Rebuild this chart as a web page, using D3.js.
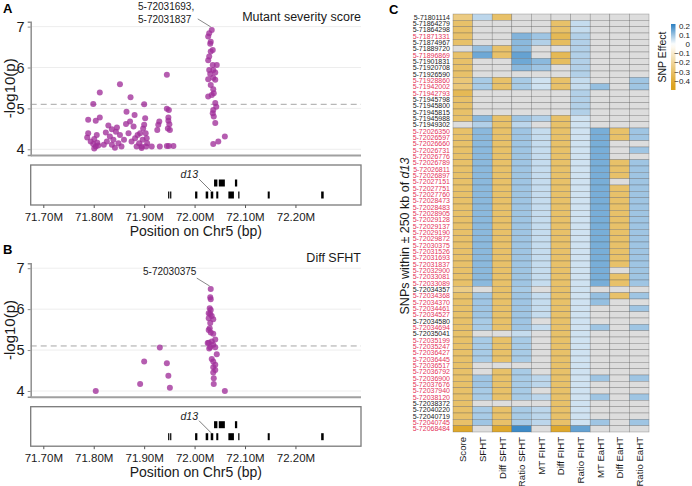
<!DOCTYPE html>
<html>
<head>
<meta charset="utf-8">
<script src="https://cdn.jsdelivr.net/npm/d3@7"></script>
<style>
  body { margin: 0; background: #fff; }
  svg { display: block; font-family: "Liberation Sans", Arial, sans-serif; }
</style>
</head>
<body>
<svg id="fig" width="692" height="486"></svg>
<script>
// ---- data: SNP positions (Mb) and -log10(p) ----
const scorePos = [71.787,71.789,71.789,71.799,71.812,71.804,71.812,71.794,71.801,71.806,71.799,71.804,71.809,71.801,71.807,
  71.824,71.829,71.836,71.846,71.852,71.832,71.839,71.836,71.842,71.849,71.852,71.855,71.860,71.865,71.869,71.873,71.875,
  71.879,71.881,71.882,71.885,71.890,71.892,71.895,71.897,71.898,71.900,71.902,71.904,71.905,71.900,71.903,71.906,71.864,
  71.872,71.844,71.826,71.820,71.887,71.895,
  71.915,71.928,71.930,71.926,71.931,71.945,71.945,71.949,71.948,71.948,71.950,71.947,71.951,71.945,71.949,71.958,
  72.034,72.029,72.027,72.032,72.031,72.036,72.032,72.029,72.027,72.044,72.036,72.029,72.037,72.041,72.027,72.041,72.032,
  72.037,72.038,72.027,72.034,72.041,72.043,72.037,72.036,72.038,72.041,72.037,72.047,72.060,72.031,72.037];
const scoreLogP = [4.29,4.39,4.72,5.11,5.39,4.70,4.78,4.19,4.25,4.35,4.13,4.07,4.09,4.02,4.16,
  4.41,4.58,4.49,4.53,5.59,4.31,4.23,4.11,4.04,4.15,4.35,4.07,4.23,4.92,4.39,5.27,4.19,
  4.56,4.84,4.27,4.07,4.15,4.39,4.07,4.23,4.51,5.10,4.76,4.07,4.27,4.60,4.39,4.15,4.62,
  4.68,4.43,4.19,4.11,4.35,4.03,
  4.07,4.60,4.68,4.47,4.07,5.82,4.99,4.96,4.78,4.70,4.61,4.51,4.47,4.08,4.08,4.08,
  6.92,6.84,6.76,6.63,6.58,6.43,6.39,6.27,6.18,6.06,6.06,5.94,5.94,5.88,5.71,5.70,5.57,
  5.47,5.37,5.29,5.33,5.13,5.04,4.96,4.88,4.80,4.64,4.13,4.19,4.31,5.84,5.75];

const sfhtPos = [71.804,71.892,71.900,71.931,71.945,71.948,71.951,72.060,
  72.032,72.031,72.032,72.030,72.032,72.028,72.031,72.034,72.028,72.037,72.031,72.030,72.028,72.032,72.037,
  72.041,72.028,72.034,72.037,72.031,72.041,72.044,72.034,72.037,72.041,72.037,72.041,72.037,72.038,72.038,72.029,72.026];
const sfhtLogP = [4.00,4.17,4.72,5.06,4.68,4.37,4.08,4.00,
  6.49,6.29,6.24,6.02,5.98,5.90,5.88,5.83,5.78,5.75,5.66,5.53,5.49,5.43,5.40,
  5.26,5.18,5.21,5.13,5.07,5.07,4.90,4.78,4.72,4.64,4.58,4.51,4.45,4.31,4.17,5.04,5.17];

// genes in the track (Mb), row 0 = upper, row 1 = lower
const geneStart = [72.0386,72.048,72.080, 71.9475,71.9515,72.001,72.022,72.032,72.043,72.067,72.0865,72.145,72.251];
const geneEnd   = [72.0452,72.060,72.0845,71.9495,71.9535,72.0055,72.027,72.037,72.047,72.078,72.089,72.149,72.256];
const geneRow   = [0,0,0, 1,1,1,1,1,1,1,1,1,1];
const d13Index = 7;

const xTicks = [71.7, 71.8, 71.9, 72.0, 72.1, 72.2];
const yTicks = [4, 5, 6, 7];
const sigLine = 5.1;

// ---- heatmap ----
const traitNames = ["Score","SFHT","Diff SFHT","Ratio SFHT","MT FIHT","Diff FIHT","Ratio FIHT","MT EaHT","Diff EaHT","Ratio EaHT"];
const snpIds = ["5-71801114","5-71864279","5-71864298","5-71871331","5-71874967","5-71889720","5-71896869","5-71901831",
  "5-71920708","5-71926590","5-71928860","5-71942002","5-71942793","5-71945798","5-71945800","5-71945815","5-71945988",
  "5-71949302","5-72026350","5-72026597","5-72026660","5-72026731","5-72026776","5-72026789","5-72026811","5-72026897",
  "5-72027151","5-72027751","5-72027760","5-72028473","5-72028483","5-72028905","5-72029128","5-72029137","5-72029190",
  "5-72029872","5-72030375","5-72031526","5-72031693","5-72031837","5-72032900","5-72033081","5-72033089","5-72034357",
  "5-72034368","5-72034370","5-72034461","5-72034527","5-72034580","5-72034694","5-72035041","5-72035199","5-72035247",
  "5-72036427","5-72036445","5-72036517","5-72036792","5-72036900","5-72037676","5-72037940","5-72038120","5-72038372",
  "5-72040220","5-72040719","5-72040745","5-72068484"];
// 1 = highlighted (red) SNP
const snpHighlight = [0,0,0,1,0,0,1,0,0,0,1,1,1,0,0,0,0,0,1,1,1,1,1,1,1,1,1,1,1,1,1,1,1,1,1,1,1,1,1,1,1,1,1,0,
  1,1,1,1,0,1,0,1,1,1,1,1,1,1,1,1,1,0,0,0,1,1];

const effScore = [-0.25,-0.3,-0.3,-0.3,-0.3,null,-0.3,-0.3,-0.3,-0.3,
  -0.27,-0.27,-0.34,-0.3,-0.3,-0.3,-0.3,null,-0.3,-0.3,
  -0.3,-0.3,-0.3,-0.3,-0.3,-0.3,-0.3,-0.3,-0.3,-0.3,
  -0.3,-0.3,-0.3,-0.3,-0.3,-0.3,-0.3,-0.3,-0.3,-0.3,
  -0.3,-0.3,-0.3,-0.24,-0.3,-0.3,-0.3,-0.3,-0.3,-0.3,
  -0.3,-0.3,-0.3,-0.3,-0.3,-0.3,-0.3,-0.3,-0.3,-0.3,
  -0.3,-0.3,-0.3,-0.3,-0.3,-0.42];
const effSfht = [0.07,null,null,null,null,0.11,0.15,null,null,null,
  0.09,0.09,null,null,null,null,0.12,0.08,0.12,0.12,
  0.12,0.12,0.12,0.12,0.12,0.12,0.12,0.12,0.12,0.12,
  0.12,0.12,0.12,0.12,0.12,0.12,0.12,0.12,0.12,0.12,
  0.12,0.12,0.12,null,0.1,0.1,0.1,0.1,0.09,0.09,
  null,0.09,0.09,0.09,0.09,null,null,0.1,0.1,0.09,
  0.09,null,0.09,0.09,0.1,null];
const effDiffSfht = [-0.3,null,null,null,null,-0.3,-0.3,null,null,null,
  -0.3,-0.3,null,null,null,null,-0.3,-0.3,-0.3,-0.3,
  -0.3,-0.3,-0.3,-0.3,-0.3,-0.3,-0.3,-0.3,-0.3,-0.3,
  -0.3,-0.3,-0.3,-0.3,-0.3,-0.3,-0.3,-0.3,-0.3,-0.3,
  -0.3,-0.3,-0.3,-0.3,-0.3,-0.3,-0.3,-0.3,-0.3,-0.3,
  null,-0.3,-0.3,-0.3,-0.3,null,-0.3,-0.3,-0.3,-0.3,
  -0.3,null,-0.3,-0.3,-0.3,-0.42];
const effRatioSfht = [null,null,null,0.13,0.12,0.12,0.16,0.15,0.12,null,
  0.09,0.09,null,null,null,null,0.1,0.07,0.1,0.1,
  0.1,0.1,0.1,0.1,0.1,0.1,0.1,0.1,0.1,0.1,
  0.1,0.1,0.1,0.1,0.1,0.1,0.1,0.1,0.1,0.1,
  0.1,0.1,0.1,0.09,0.1,0.1,0.1,0.1,0.1,0.1,
  0.06,0.09,0.09,0.09,0.09,null,0.09,0.09,0.09,0.09,
  0.09,null,0.09,0.09,0.09,0.2];
const effMtFiht = [null,null,null,0.1,0.08,null,null,0.12,0.1,null,
  0.05,0.05,null,null,null,null,0.08,null,0.06,0.06,
  0.06,0.06,0.06,0.06,0.06,0.06,0.06,0.06,0.06,0.06,
  0.06,0.06,0.06,0.06,0.06,0.06,0.06,0.06,0.06,0.06,
  0.06,0.06,0.06,null,0.06,0.06,0.06,0.06,null,0.06,
  null,null,null,null,null,null,null,0.07,0.07,null,
  0.07,null,0.07,0.07,0.07,null];
const effDiffFiht = [null,-0.3,-0.3,-0.34,-0.32,null,-0.34,-0.32,null,null,
  -0.3,-0.3,null,null,null,null,-0.3,-0.3,-0.3,-0.3,
  -0.3,-0.3,-0.3,-0.3,-0.3,-0.3,-0.3,-0.3,-0.3,-0.3,
  -0.3,-0.3,-0.3,-0.3,-0.3,-0.3,-0.3,-0.3,-0.3,-0.3,
  -0.3,-0.3,-0.3,-0.3,-0.3,-0.3,-0.3,-0.3,-0.3,-0.3,
  -0.3,-0.3,-0.3,-0.3,-0.3,-0.3,-0.3,-0.3,-0.3,-0.3,
  -0.3,-0.3,-0.3,-0.3,-0.3,-0.42];
const effRatioFiht = [null,0.06,0.06,0.08,0.08,0.08,0.08,0.08,0.08,0.08,
  0.06,0.06,0.08,0.08,0.08,0.08,0.05,0.05,0.05,0.05,
  0.05,0.05,0.05,0.05,0.05,0.05,0.05,0.05,0.05,0.05,
  0.05,0.05,0.05,0.05,0.05,0.05,0.05,0.05,0.05,0.05,
  0.05,0.05,0.05,0.05,0.05,0.05,0.05,0.05,0.05,0.05,
  0.05,0.05,0.05,0.05,0.05,0.05,0.05,0.05,0.05,0.05,
  0.05,0.05,0.05,0.05,0.05,0.16];
const effMtEaht = [null,null,null,null,null,null,null,null,null,null,
  null,0.11,null,null,null,null,null,null,0.14,0.14,
  0.14,0.14,0.14,0.14,0.14,0.14,0.14,0.14,0.14,0.14,
  0.14,0.14,0.14,0.14,0.14,0.14,0.14,0.14,0.14,0.14,
  0.14,0.14,0.14,null,0.11,0.11,null,null,null,0.1,
  null,null,null,null,null,null,null,0.1,null,null,
  0.1,null,null,null,0.1,null];
const effDiffEaht = [null,null,null,null,null,null,null,null,null,null,
  null,null,null,null,null,null,null,null,-0.3,-0.3,
  null,null,null,-0.3,-0.3,-0.3,null,-0.3,-0.3,-0.3,
  -0.3,-0.3,-0.3,-0.3,-0.3,-0.3,-0.3,-0.3,-0.3,-0.3,
  null,-0.3,-0.3,null,-0.3,null,null,null,null,null,
  null,null,null,null,null,null,null,null,null,null,
  null,null,null,null,null,null];
const effRatioEaht = [null,null,null,null,null,null,null,null,null,null,
  0.1,0.1,null,null,null,null,null,null,0.1,0.1,
  null,0.1,null,0.1,0.1,0.1,0.1,0.1,0.1,0.1,
  0.1,0.1,0.1,0.1,0.1,0.1,0.1,0.1,0.1,0.1,
  0.1,0.1,0.1,null,0.1,null,0.1,null,null,0.1,
  null,null,null,null,null,null,null,0.1,null,null,
  0.1,null,null,null,0.1,null];
const effects = [effScore, effSfht, effDiffSfht, effRatioSfht, effMtFiht, effDiffFiht, effRatioFiht, effMtEaht, effDiffEaht, effRatioEaht];
const legendTicks = [0.2, 0.1, 0, -0.1, -0.2, -0.3, -0.4];

// ---- drawing ----
const svg = d3.select("#fig");
svg.append("rect").attr("width", 692).attr("height", 486).attr("fill", "#fff");

const xPos = d3.scaleLinear().domain([71.675, 72.33]).range([30.7, 361]);
const purple = "#a0309a";

function letter(t, x, y) {
  svg.append("text").attr("x", x).attr("y", y).text(t)
    .style("font-size", "13px").style("font-weight", "700");
}

function manhattan(cfg) {
  const y = d3.scaleLinear().domain([3.86, 7.12]).range([cfg.bottom, cfg.top]);
  const g = svg.append("g");

  g.selectAll("line.grid").data(yTicks).enter().append("line")
    .attr("x1", xPos.range()[0]).attr("x2", xPos.range()[1])
    .attr("y1", d => y(d)).attr("y2", d => y(d))
    .attr("stroke", "#ebebeb").attr("stroke-width", 0.9);

  g.append("line")
    .attr("x1", xPos.range()[0]).attr("x2", xPos.range()[1])
    .attr("y1", y(sigLine)).attr("y2", y(sigLine))
    .attr("stroke", "#a5a5a5").attr("stroke-width", 1).attr("stroke-dasharray", "6,4");

  const ax = g.append("g").attr("transform", `translate(${xPos.range()[0]},0)`)
    .call(d3.axisLeft(y).tickValues(yTicks).tickSize(3).tickFormat(d3.format("d")));
  ax.select(".domain").attr("stroke", "#8f8f8f").attr("stroke-width", 1.5);
  ax.selectAll(".tick line").attr("stroke", "#8f8f8f");
  ax.selectAll("text").style("font-size", "14.5px").style("fill", "#1a1a1a")
    .style("font-family", "Liberation Sans, Arial, sans-serif");

  g.append("line")
    .attr("x1", xPos.range()[0]).attr("x2", xPos.range()[1])
    .attr("y1", cfg.bottom + 0.5).attr("y2", cfg.bottom + 0.5)
    .attr("stroke", "#a0a0a0").attr("stroke-width", 2);

  g.append("text").attr("transform", `translate(15,${(cfg.top + cfg.bottom) / 2}) rotate(-90)`)
    .attr("text-anchor", "middle").text("-log10(p)")
    .style("font-size", "15px").style("fill", "#1a1a1a");

  g.append("text").attr("x", 361).attr("y", cfg.titleY).attr("text-anchor", "end")
    .text(cfg.title).style("font-size", "12.5px").style("fill", "#1a1a1a");

  g.selectAll("circle").data(cfg.pos.map((p, i) => [p, cfg.logp[i]])).enter().append("circle")
    .attr("cx", d => xPos(d[0])).attr("cy", d => y(d[1])).attr("r", 3)
    .attr("fill", purple).attr("fill-opacity", 0.78);

  // label of top SNP(s)
  const top = d3.maxIndex(cfg.logp);
  const px = xPos(cfg.pos[top]), py = y(cfg.logp[top]);
  g.append("line").attr("x1", px - 14).attr("y1", py - 11).attr("x2", px - 1).attr("y2", py - 3)
    .attr("stroke", "#555").attr("stroke-width", 0.7);
  cfg.label.forEach((t, i) => {
    g.append("text").attr("x", cfg.labelX).attr("y", cfg.labelY + i * 12.8).text(t)
      .style("font-size", "10px").style("fill", "#1a1a1a");
  });

  // gene track
  const tb = cfg.trackTop, th = cfg.trackH;
  g.append("rect").attr("x", xPos.range()[0]).attr("y", tb).attr("width", xPos.range()[1] - xPos.range()[0])
    .attr("height", th).attr("fill", "none").attr("stroke", "#7a7a7a").attr("stroke-width", 1.3);
  const rowY = [tb + 14.5, tb + 26.5];
  g.selectAll("rect.gene").data(geneStart.map((s, i) => i)).enter().append("rect")
    .attr("x", i => xPos(geneStart[i]))
    .attr("width", i => Math.max(1.2, xPos(geneEnd[i]) - xPos(geneStart[i])))
    .attr("y", i => rowY[geneRow[i]]).attr("height", 7).attr("fill", "#000");
  const dx = xPos((geneStart[d13Index] + geneEnd[d13Index]) / 2);
  g.append("text").attr("x", dx - 14).attr("y", tb + 13).attr("text-anchor", "end").text("d13")
    .style("font-size", "10.5px").style("font-style", "italic").style("fill", "#222");
  g.append("line").attr("x1", dx - 13).attr("y1", tb + 14).attr("x2", dx - 1).attr("y2", rowY[1] - 0.5)
    .attr("stroke", "#444").attr("stroke-width", 0.7);

  const xa = g.append("g").attr("transform", `translate(0,${tb + th})`)
    .call(d3.axisBottom(xPos).tickValues(xTicks).tickSize(3).tickFormat(d => d.toFixed(2) + "M"));
  xa.select(".domain").remove();
  xa.selectAll(".tick line").attr("stroke", "#555");
  xa.selectAll("text").style("font-size", "11.5px").style("fill", "#1a1a1a")
    .style("font-family", "Liberation Sans, Arial, sans-serif").attr("dy", "0.85em");
  g.append("text").attr("x", (xPos.range()[0] + xPos.range()[1]) / 2).attr("y", tb + th + 31)
    .attr("text-anchor", "middle").text("Position on Chr5 (bp)")
    .style("font-size", "14px").style("fill", "#1a1a1a");
}

letter("A", 3, 13);
manhattan({ top: 21.7, bottom: 155, pos: scorePos, logp: scoreLogP, title: "Mutant severity score", titleY: 21,
  label: ["5-72031693,", "5-72031837"], labelX: 138, labelY: 10, trackTop: 165, trackH: 40 });
letter("B", 3, 254);
manhattan({ top: 263.3, bottom: 396.7, pos: sfhtPos, logp: sfhtLogP, title: "Diff SFHT", titleY: 262,
  label: ["5-72030375"], labelX: 143, labelY: 275, trackTop: 406.7, trackH: 39.5 });

// ---- panel C heatmap ----
letter("C", 389, 14);
const xH = d3.scaleBand().domain(traitNames).range([453, 649]);
const yH = d3.scaleBand().domain(snpIds).range([14, 432]);
const color = d3.scaleLinear().domain([-0.45, 0, 0.22]).range(["#dca21e", "#ffffff", "#2b7fc1"]).clamp(true);

const cells = [];
effects.forEach((col, j) => col.forEach((v, i) => cells.push({ t: traitNames[j], s: snpIds[i], v })));
svg.append("g").selectAll("rect").data(cells).enter().append("rect")
  .attr("x", d => xH(d.t)).attr("y", d => yH(d.s))
  .attr("width", xH.bandwidth()).attr("height", yH.bandwidth())
  .attr("fill", d => d.v === null ? "#dddddd" : color(d.v))
  .attr("stroke", "#5a5a5a").attr("stroke-opacity", 0.6).attr("stroke-width", 0.5);

svg.append("g").selectAll("text").data(snpIds).enter().append("text")
  .attr("x", 450).attr("y", d => yH(d) + yH.bandwidth() / 2).attr("dy", "0.36em")
  .attr("text-anchor", "end").text(d => d)
  .style("font-size", "7px")
  .style("fill", (d, i) => snpHighlight[i] ? "#e5345a" : "#1a1a1a");

svg.append("g").selectAll("text").data(traitNames).enter().append("text")
  .attr("transform", d => `translate(${xH(d) + xH.bandwidth() / 2 + 3.5},437) rotate(-90)`)
  .attr("text-anchor", "end").text(d => d)
  .style("font-size", "9.6px").style("fill", "#1a1a1a");

const yTitle = svg.append("text")
  .attr("transform", "translate(409,236) rotate(-90)").attr("text-anchor", "middle")
  .style("font-size", "12.5px").style("fill", "#1a1a1a");
yTitle.append("tspan").text("SNPs within \u00b1 250 kb of ");
yTitle.append("tspan").style("font-style", "italic").text("d13");

// legend
const yL = d3.scaleLinear().domain([0.222, -0.498]).range([24, 90]);
const defs = svg.append("defs");
const grad = defs.append("linearGradient").attr("id", "lg").attr("x1", 0).attr("x2", 0).attr("y1", 0).attr("y2", 1);
d3.range(0, 1.0001, 0.05).forEach(t => {
  grad.append("stop").attr("offset", t).attr("stop-color", color(yL.invert(24 + t * 66)));
});
svg.append("rect").attr("x", 671).attr("y", 24).attr("width", 4.5).attr("height", 66).attr("fill", "url(#lg)");
svg.append("g").selectAll("text").data(legendTicks).enter().append("text")
  .attr("x", 690).attr("y", d => yL(d)).attr("dy", "0.35em").attr("text-anchor", "end")
  .text(d => d === 0 ? "0" : d3.format(".1f")(d))
  .style("font-size", "8px").style("fill", "#1a1a1a");
svg.append("text").attr("transform", "translate(666,57) rotate(-90)").attr("text-anchor", "middle")
  .text("SNP Effect").style("font-size", "10.5px").style("fill", "#1a1a1a");
</script>
</body>
</html>
